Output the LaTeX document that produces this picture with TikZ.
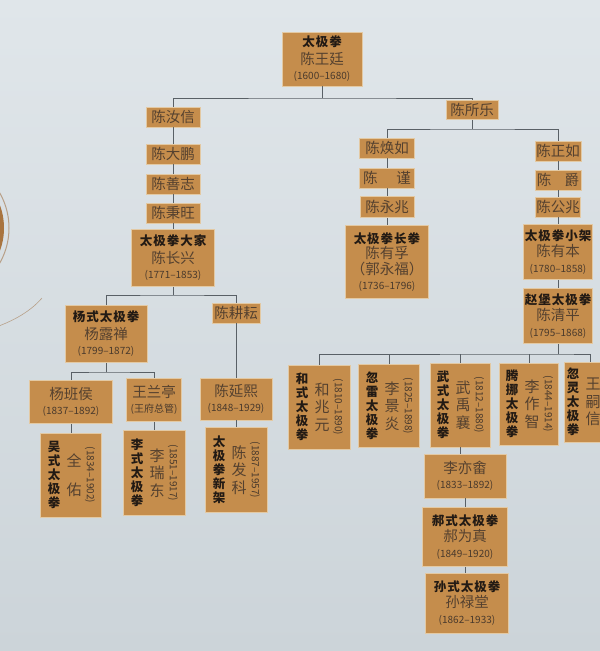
\documentclass[tikz,border=0pt]{standalone}
\usepackage{fontspec}
\newfontfamily\cjk{Noto Sans CJK SC}
\newfontfamily\cjkt[LetterSpace=8]{Noto Sans CJK SC}
\definecolor{paper1}{HTML}{E0E6EA}
\definecolor{paper2}{HTML}{CCD4D9}
\definecolor{cardfill}{HTML}{C58D4C}
\definecolor{cardedge}{HTML}{E3C9A3}
\definecolor{linkc}{HTML}{596066}
\definecolor{titlec}{HTML}{221A14}
\definecolor{namec}{HTML}{55412F}
\definecolor{datec}{HTML}{4A3A2C}
\definecolor{ornfill}{HTML}{A9743F}
\definecolor{ornline}{HTML}{B8A088}
\tikzstyle{card} = [rectangle, fill=cardfill, draw=cardedge, line width=.6pt, inner sep=0pt]
\tikzstyle{link} = [draw=linkc, line width=.7pt]
\newcommand{\titlef}{\cjkt\bfseries\fontsize{12.5}{14}\selectfont\color{titlec}}
\newcommand{\namef}{\cjk\fontsize{14.5}{16}\selectfont\color{namec}}
\newcommand{\datef}{\cjk\fontsize{10}{11}\selectfont\color{datec}}
% card with lines of text: name, position, width, height, text
\newcommand{\namecard}[5]{\node[card, minimum width=#3, minimum height=#4, align=center,
  font=\fontsize{10}{15.5}\selectfont] (#1) at (#2) {#5};}
% upright card: name, position, width, height, style, person, years
\newcommand{\stylecard}[7]{%
  \node[card, minimum width=#3, minimum height=#4] (#1) at (#2) {};
  \node[align=center, inner sep=0pt, font=\cjk\bfseries\fontsize{12.5}{14}\selectfont, text=titlec]
    (#1-t) at ([xshift=-17pt]#1.center) {#5};
  \node[align=center, inner sep=0pt, font=\cjk\fontsize{15}{17.5}\selectfont, text=namec]
    (#1-n) at ([xshift=3pt]#1.center) {#6};
  \node[inner sep=0pt, rotate=-90] (#1-d) at ([xshift=19pt]#1.center) {\datef #7};
}

\begin{document}
\begin{tikzpicture}[x=1pt, y=-1pt]
\useasboundingbox (0,0) rectangle (600,651);
\clip (0,0) rectangle (600,651);
\shade[top color=paper1, bottom color=paper2] (0,0) rectangle (600,651);
% ornament at the page edge
\fill[ornfill] (-62,228) circle (66);
\draw[ornline, line width=1pt] (-62,228) circle (71);
\draw[ornline, line width=.6pt] (-20,332) .. controls (10,324) and (30,312) .. (42,298);

% founder
\namecard{root}{322,59}{80}{54}{\titlef 太极拳\\[2pt]\namef 陈王廷\\\datef (1600–1680)}

% left branch
\namecard{ruxin}{173,117}{54}{20}{\namef 陈汝信}
\namecard{dapeng}{173,154}{54}{20}{\namef 陈大鹏}
\namecard{shanzhi}{173,184}{54}{20}{\namef 陈善志}
\namecard{bingwang}{173,213}{54}{20}{\namef 陈秉旺}
\namecard{changxing}{173,258}{83}{57}{\titlef 太极拳大家\\[2pt]\namef 陈长兴\\\datef (1771–1853)}
\namecard{luchan}{106,334}{82}{57}{\titlef 杨式太极拳\\[2pt]\namef 杨露禅\\\datef (1799–1872)}
\namecard{gengyun}{236,313}{48}{20}{\namef 陈耕耘}
\namecard{banhou}{71,402}{83}{43}{\namef 杨班侯\\\datef (1837–1892)}
\namecard{lanting}{154,400}{55}{43}{\namef 王兰亭\\\datef (王府总管)}
\namecard{yanxi}{236,399}{72}{42}{\namef 陈延熙\\\datef (1848–1929)}
\stylecard{quanyou}{71,475}{61}{84}{吴\\式\\太\\极\\拳}{全\\[11pt]佑}{(1834–1902)}
\stylecard{ruidong}{154,473}{62}{85}{李\\式\\太\\极\\拳}{李\\瑞\\东}{(1851–1917)}
\stylecard{fake}{236,470}{62}{85}{太\\极\\拳\\新\\架}{陈\\发\\科}{(1887–1957)}

% right branch
\namecard{suole}{472,110}{52}{19}{\namef 陈所乐}
\namecard{huanru}{387,148}{55}{20}{\namef 陈焕如}
\namecard{jin}{387,178}{55}{20}{\namef 陈\hspace{1.3em}谨}
\namecard{yongzhao}{387,207}{54}{21}{\namef 陈永兆}
\namecard{youfu}{387,262}{83}{73}{\titlef 太极拳长拳\\\namef 陈有孚\\\namef （郭永福）\\\datef (1736–1796)}
\namecard{zhengru}{558,151}{46}{20}{\namef 陈正如}
\namecard{jue}{558,180}{46}{20}{\namef 陈\hspace{.9em}爵}
\namecard{gongzhao}{558,207}{45}{20}{\namef 陈公兆}
\namecard{youben}{558,252}{69}{55}{\titlef 太极拳小架\\[1pt]\namef 陈有本\\\datef (1780–1858)}
\namecard{qingping}{558,316}{69}{55}{\titlef 赵堡太极拳\\[1pt]\namef 陈清平\\\datef (1795–1868)}
\stylecard{hezy}{319,407}{62}{84}{和\\式\\太\\极\\拳}{和\\兆\\元}{(1810–1890)}
\stylecard{lijy}{389,406}{61}{83}{忽\\雷\\太\\极\\拳}{李\\景\\炎}{(1825–1898)}
\stylecard{wuyx}{460,405}{60}{84}{武\\式\\太\\极\\拳}{武\\禹\\襄}{(1812–1880)}
\stylecard{lizz}{529,404}{59}{82}{腾\\挪\\太\\极\\拳}{李\\作\\智}{(1844–1914)}
\stylecard{wangxin}{590,402}{52}{80}{忽\\灵\\太\\极\\拳}{王\\嗣\\信}{}
\namecard{liyiyu}{465,476}{82}{44}{\namef 李亦畬\\\datef (1833–1892)}
\namecard{haowz}{465,537}{85}{59}{\titlef 郝式太极拳\\[1pt]\namef 郝为真\\\datef (1849–1920)}
\namecard{sunlt}{467,603}{83}{60}{\titlef 孙式太极拳\\[1pt]\namef 孙禄堂\\\datef (1862–1933)}

% connectors
\coordinate (jroot) at (322,98);
\draw[link] (root.south) -- (jroot);
\draw[link] (ruxin.north) |- (jroot) -| (suole.north);
\draw[link] (ruxin) -- (dapeng);
\draw[link] (dapeng) -- (shanzhi);
\draw[link] (shanzhi) -- (bingwang);
\draw[link] (bingwang) -- (changxing);
\coordinate (jchang) at (173,295);
\draw[link] (changxing.south) -- (jchang);
\draw[link] (luchan.north) |- (jchang) -| (gengyun.north);
\coordinate (jlu) at (106,372);
\draw[link] (luchan.south) -- (jlu);
\draw[link] (banhou.north) |- (jlu) -| (lanting.north);
\draw[link] (gengyun) -- (yanxi);
\draw[link] (banhou) -- (quanyou);
\draw[link] (lanting) -- (ruidong);
\draw[link] (yanxi) -- (fake);

\coordinate (jsuo) at (472,129);
\draw[link] (suole.south) -- (jsuo);
\draw[link] (huanru.north) |- (jsuo) -| (zhengru.north);
\draw[link] (huanru) -- (jin);
\draw[link] (jin) -- (yongzhao);
\draw[link] (yongzhao) -- (youfu);
\draw[link] (zhengru) -- (jue);
\draw[link] (jue) -- (gongzhao);
\draw[link] (gongzhao) -- (youben);
\draw[link] (youben) -- (qingping);
\coordinate (jqing) at (558,354);
\draw[link] (qingping.south) -- (jqing);
\draw[link] (hezy.north) |- (jqing) -| (wangxin.north);
\draw[link] (lijy.north) -- (lijy.north |- jqing);
\draw[link] (wuyx.north) -- (wuyx.north |- jqing);
\draw[link] (lizz.north) -- (lizz.north |- jqing);
\draw[link] (wuyx.south) -- (wuyx.south |- liyiyu.north);
\draw[link] (liyiyu) -- (haowz);
\draw[link] (haowz.south) -- (haowz.south |- sunlt.north);
\end{tikzpicture}
\end{document}
